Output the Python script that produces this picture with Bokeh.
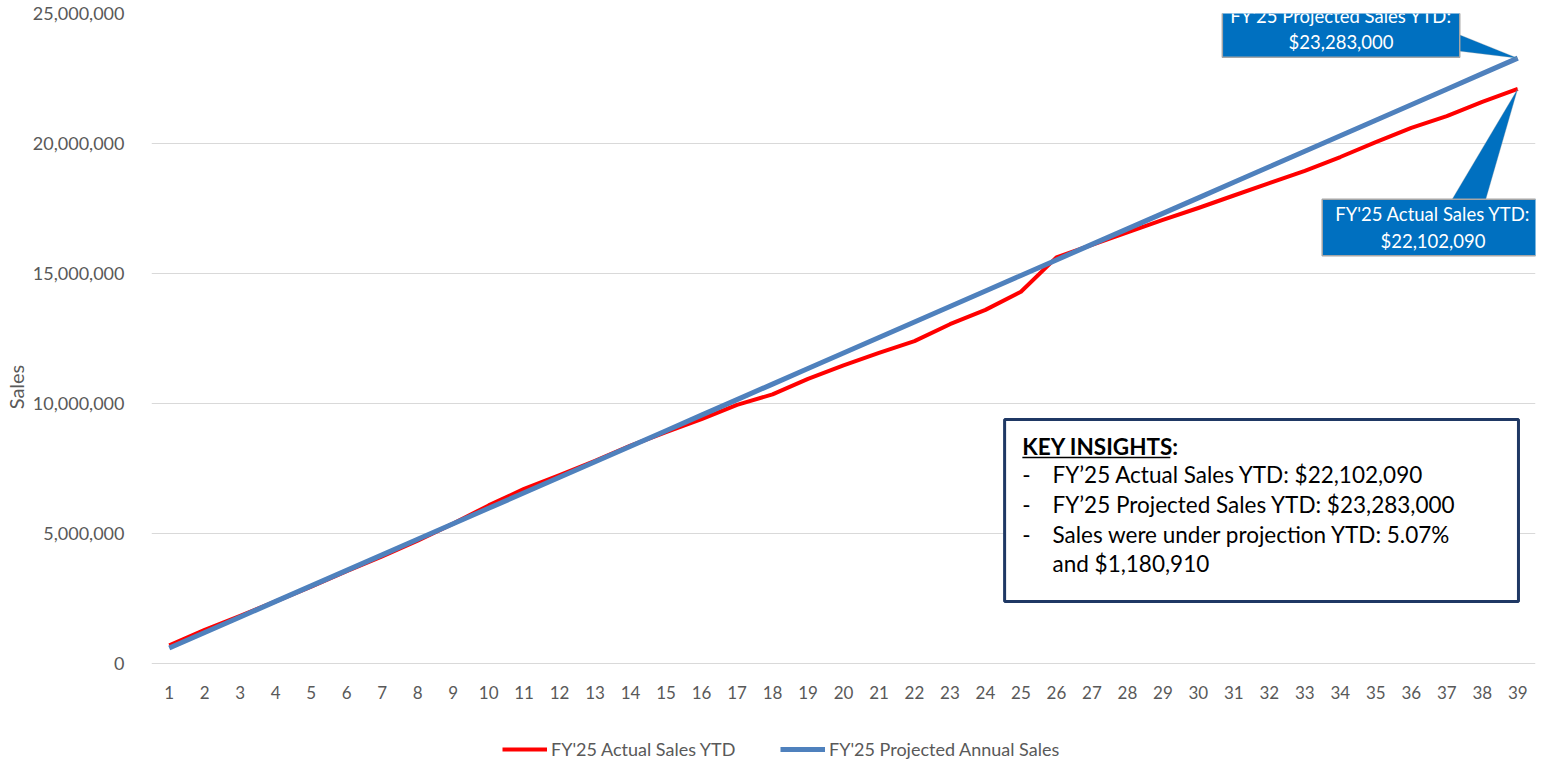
from bokeh.plotting import figure
from bokeh.models import (Legend, LegendItem, Label, BoxAnnotation, PolyAnnotation,
                          FixedTicker, NumeralTickFormatter, Range1d, ColumnDataSource)
from bokeh.embed import file_html
from bokeh.resources import INLINE

# ---------------- data ----------------
weeks = list(range(1, 40))
actual = [700000, 1290000, 1830000, 2390000, 2960000, 3550000, 4120000, 4720000,
          5380000, 6080000, 6720000, 7250000, 7790000, 8380000, 8900000, 9400000,
          9950000, 10350000, 10950000, 11470000, 11950000, 12400000, 13050000,
          13600000, 14300000, 15620000, 16100000, 16580000, 17060000, 17520000,
          18000000, 18480000, 18950000, 19480000, 20050000, 20600000, 21050000,
          21600000, 22102090]
projected = [597000, 1194000, 1791000, 2388000, 2985000, 3582000, 4179000, 4776000,
             5373000, 5970000, 6567000, 7164000, 7761000, 8358000, 8955000, 9552000,
             10149000, 10746000, 11343000, 11940000, 12537000, 13134000, 13731000,
             14328000, 14925000, 15522000, 16119000, 16716000, 17313000, 17910000,
             18507000, 19104000, 19701000, 20298000, 20895000, 21492000, 22089000,
             22686000, 23283000]
y_ticks = [0, 5000000, 10000000, 15000000, 20000000, 25000000]
series_names = ["FY'25 Actual Sales YTD", "FY'25 Projected Annual Sales"]
callout_projected = "FY'25 Projected Sales YTD:\n$23,283,000"
callout_actual = "FY'25 Actual Sales YTD:\n$22,102,090"
insight_title = "KEY INSIGHTS:"
insight_lines = ["FY\u201925 Actual Sales YTD: $22,102,090",
                 "FY\u201925 Projected Sales YTD: $23,283,000",
                 "Sales were under projection YTD: 5.07%",
                 "and $1,180,910"]
insight_bullets = ["-", "-", "-", ""]

FONT = "Lato"
GREY = "#595959"
CALLOUT = "#0070C0"

# the frame reaches the bottom of the page; the x axis is pinned at 0 so that the
# legend can sit underneath it, inside the frame
p = figure(frame_width=1384, frame_height=747,
           x_range=Range1d(0.5, 39.5), y_range=Range1d(-3730769, 25000000),
           output_backend="svg", toolbar_location=None,
           min_border_left=151, min_border_right=7, min_border_top=13, min_border_bottom=0)
p.outline_line_color = None
p.background_fill_color = "white"

src = ColumnDataSource(dict(week=weeks, actual=actual, projected=projected))
r_act = p.line("week", "actual", source=src, line_color="#FF0000", line_width=4, line_join="round")
r_proj = p.line("week", "projected", source=src, line_color="#4F81BD", line_width=5, line_join="round")

# axes
p.xaxis.ticker = FixedTicker(ticks=weeks)
p.xaxis.fixed_location = 0
p.yaxis.ticker = FixedTicker(ticks=y_ticks)
p.yaxis.formatter = NumeralTickFormatter(format="0,0")
for ax in (p.xaxis, p.yaxis):
    ax.axis_line_color = None
    ax.major_tick_line_color = None
    ax.minor_tick_line_color = None
    ax.major_label_text_font = FONT
    ax.major_label_text_color = GREY
p.yaxis.major_label_text_font_size = "18px"
p.yaxis.major_label_standoff = 21
p.xaxis.major_label_text_font_size = "17px"
p.xaxis.major_label_standoff = 16
p.yaxis.axis_label = "Sales"
p.yaxis.axis_label_text_font = FONT
p.yaxis.axis_label_text_font_size = "20px"
p.yaxis.axis_label_text_font_style = "normal"
p.yaxis.axis_label_text_color = GREY
p.yaxis.axis_label_standoff = 2

p.xgrid.grid_line_color = None
p.ygrid.grid_line_color = "#D9D9D9"
p.ygrid.grid_line_width = 1

# legend at the bottom of the picture
legend = Legend(items=[LegendItem(label=series_names[0], renderers=[r_act]),
                       LegendItem(label=series_names[1], renderers=[r_proj])],
                orientation="horizontal", location=(351, 0),
                glyph_width=45, glyph_height=20, label_standoff=4, spacing=42,
                padding=0, margin=0, border_line_color=None, background_fill_alpha=0,
                label_text_font=FONT, label_text_font_size="18px", label_text_color=GREY,
                label_width=187, label_height=20)
p.add_layout(legend, "center")

# callout pointers
p.add_layout(PolyAnnotation(xs=[37.2, weeks[-1], 37.2], ys=[24270000, projected[-1], 23577000],
                            fill_color=CALLOUT, fill_alpha=1, line_color="#A6A6A6", line_width=1))
p.add_layout(PolyAnnotation(xs=[37.13, weeks[-1], 38.09], ys=[17810000, actual[-1], 17810000],
                            fill_color=CALLOUT, fill_alpha=1, line_color="#A6A6A6", line_width=1))

# callout boxes
for cx, cy, txt, padx in [(34.02, 24404000, callout_projected, 8),
                          (36.61, 16770000, callout_actual, 13)]:
    p.add_layout(Label(x=cx, y=cy, text=txt, text_align="center", text_baseline="middle",
                       text_color="white", text_font=FONT, text_font_size="18.5px",
                       text_line_height=1.2,
                       background_fill_color=CALLOUT, background_fill_alpha=1,
                       border_line_color="#A6A6A6", border_line_width=1.5,
                       padding=dict(left=padx, right=padx, top=4, bottom=4)))

# key insights box
p.add_layout(BoxAnnotation(left=24.54, right=39.02, top=9385000, bottom=2385000,
                           fill_color="white", fill_alpha=1, line_color="#1F3864",
                           line_width=3, line_alpha=1))
p.add_layout(Label(x=25.04, y=8346000, text=insight_title, text_align="left", text_baseline="middle",
                   text_font=FONT, text_font_size="22.5px", text_font_style="bold", text_color="black"))
p.add_layout(BoxAnnotation(left=25.04, right=29.21, top=7950000, bottom=7890000,
                           fill_color="black", fill_alpha=1, line_color=None))
line_ys = [7269000, 6115000, 4962000, 3846000]
for b, t, yy in zip(insight_bullets, insight_lines, line_ys):
    if b:
        p.add_layout(Label(x=25.04, y=yy, text=b, text_align="left", text_baseline="middle",
                           text_font=FONT, text_font_size="22.5px", text_color="black"))
    p.add_layout(Label(x=25.89, y=yy, text=t, text_align="left", text_baseline="middle",
                       text_font=FONT, text_font_size="22.5px", text_color="black"))

open("out.html", "w").write(file_html(p, INLINE))
